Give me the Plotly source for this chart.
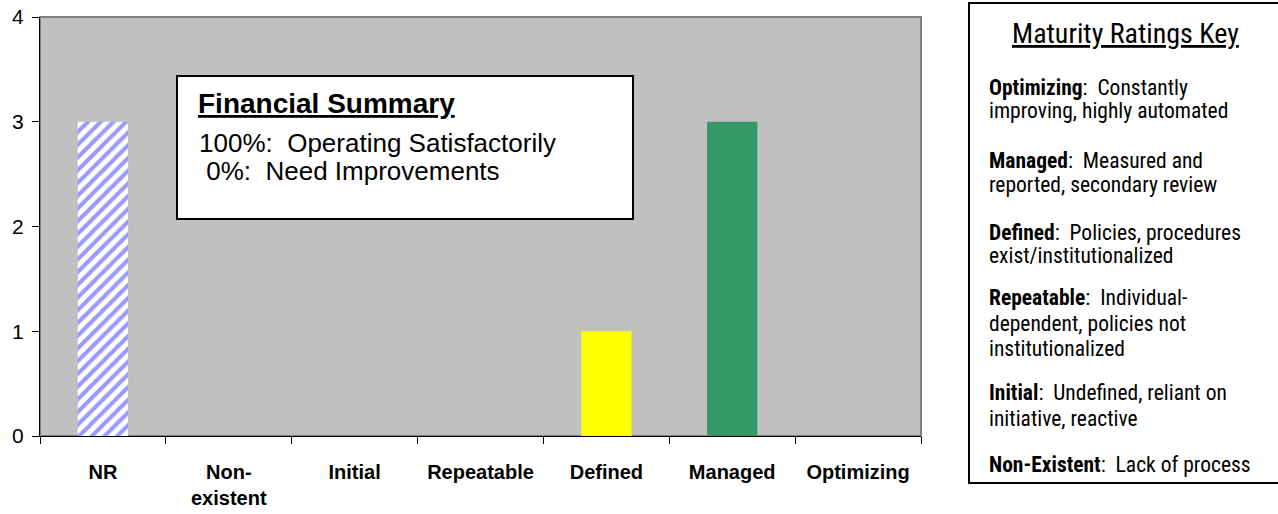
import plotly.graph_objects as go

categories = ["NR", "Non-existent", "Initial", "Repeatable", "Defined", "Managed", "Optimizing"]
tick_labels = ["NR", "Non-<br>existent", "Initial", "Repeatable", "Defined", "Managed", "Optimizing"]
counts_hatched = [3, None, None, None, None, None, None]
counts_solid = [None, 0, 0, 0, 1, 3, 0]
solid_colors = ["#C0C0C0", "#C0C0C0", "#C0C0C0", "#C0C0C0", "#FFFF00", "#339966", "#C0C0C0"]

summary_title = "Financial Summary"
summary_lines = ["100%:  Operating Satisfactorily", " 0%:  Need Improvements"]

key_title = "Maturity Ratings Key"
key_lines = [
    "<b>Optimizing</b>:  Constantly",
    "improving, highly automated",
    "<b>Managed</b>:  Measured and",
    "reported, secondary review",
    "<b>Defined</b>:  Policies, procedures",
    "exist/institutionalized",
    "<b>Repeatable</b>:  Individual-",
    "dependent, policies not",
    "institutionalized",
    "<b>Initial</b>:  Undefined, reliant on",
    "initiative, reactive",
    "<b>Non-Existent</b>:  Lack of process",
]

W, H = 1278, 514
L, R, T, B = 40, 357, 17, 78
pw, ph = W - L - R, H - T - B

def px(x):
    return (x - L) / pw

def py(y):
    return (H - B - y) / ph

fig = go.Figure()
fig.add_trace(go.Bar(
    x=categories, y=counts_hatched, width=0.4,
    marker=dict(color="#FFFFFF", line=dict(width=0),
                pattern=dict(shape="/", fgcolor="#9999FF", bgcolor="#FFFFFF",
                             fgopacity=1, size=9, solidity=0.45, fillmode="replace")),
    hoverinfo="x+y", showlegend=False,
))
fig.add_trace(go.Bar(
    x=categories, y=counts_solid, width=0.4,
    marker=dict(color=solid_colors, line=dict(width=0)),
    hoverinfo="x+y", showlegend=False,
))

ARIAL = "Liberation Sans, Arial, sans-serif"
NARROW = "Liberation Sans Narrow, Arial Narrow, Roboto Condensed, Liberation Sans, sans-serif"

shapes = [
    dict(type="rect", xref="paper", yref="paper", x0=0, x1=1, y0=0, y1=1,
         line=dict(color="#808080", width=2), fillcolor="rgba(0,0,0,0)", layer="below"),
    dict(type="rect", xref="paper", yref="paper", x0=px(177), x1=px(633), y0=py(219), y1=py(76),
         line=dict(color="#000000", width=2), fillcolor="#FFFFFF", layer="above"),
    dict(type="rect", xref="paper", yref="paper", x0=px(969), x1=px(1290), y0=py(483), y1=py(3),
         line=dict(color="#000000", width=2), fillcolor="#FFFFFF", layer="above"),
]

SUM = 26
annotations = [
    dict(text="<b><u>" + summary_title + "</u></b>", x=px(196), y=py(113 - 0.35 * 28), xref="paper", yref="paper",
         xanchor="left", yanchor="middle", showarrow=False, font=dict(family=ARIAL, size=28, color="#000")),
    dict(text=summary_lines[0], x=px(197), y=py(152 - 0.35 * SUM), xref="paper", yref="paper",
         xanchor="left", yanchor="middle", showarrow=False, font=dict(family=ARIAL, size=SUM, color="#000")),
    dict(text=summary_lines[1], x=px(197), y=py(180 - 0.35 * SUM), xref="paper", yref="paper",
         xanchor="left", yanchor="middle", showarrow=False, font=dict(family=ARIAL, size=SUM, color="#000")),
    dict(text="<u>" + key_title + "</u>", x=px(1125), y=py(34), xref="paper", yref="paper",
         xanchor="center", yanchor="middle", showarrow=False, font=dict(family=NARROW, size=28, color="#000")),
]

KEY = 21.5
baselines = [95, 118, 168, 192, 240, 263, 305, 331, 356, 400, 426, 472]
for line, base in zip(key_lines, baselines):
    annotations.append(dict(
        text=line, x=px(987), y=py(base - 0.35 * KEY), xref="paper", yref="paper",
        xanchor="left", yanchor="middle", align="left", showarrow=False,
        font=dict(family=NARROW, size=KEY, color="#000")))

fig.update_layout(
    width=W, height=H,
    margin=dict(l=L, r=R, t=T, b=B, pad=0, autoexpand=False),
    paper_bgcolor="#FFFFFF", plot_bgcolor="#C0C0C0",
    barmode="overlay",
    shapes=shapes, annotations=annotations,
    xaxis=dict(
        tickmode="array", tickvals=categories, ticktext=tick_labels,
        tickson="boundaries", ticks="outside", ticklen=7, tickcolor="#000",
        showline=True, linecolor="#000", linewidth=1, showgrid=False,
        tickfont=dict(family=ARIAL, size=20, color="#000", weight="bold"),
        ticklabelstandoff=18, range=[-0.5, 6.5], fixedrange=True, automargin=False,
    ),
    yaxis=dict(
        range=[0, 4], tickvals=[0, 1, 2, 3, 4], ticks="outside", ticklen=7, tickcolor="#000",
        showline=True, linecolor="#000", linewidth=1, showgrid=False, zeroline=False,
        tickfont=dict(family=ARIAL, size=21, color="#000"), ticklabelstandoff=4,
        fixedrange=True, automargin=False,
    ),
)

fig.write_html("out.html", post_script="document.body.style.margin='0px';",
               config={"displayModeBar": False})
